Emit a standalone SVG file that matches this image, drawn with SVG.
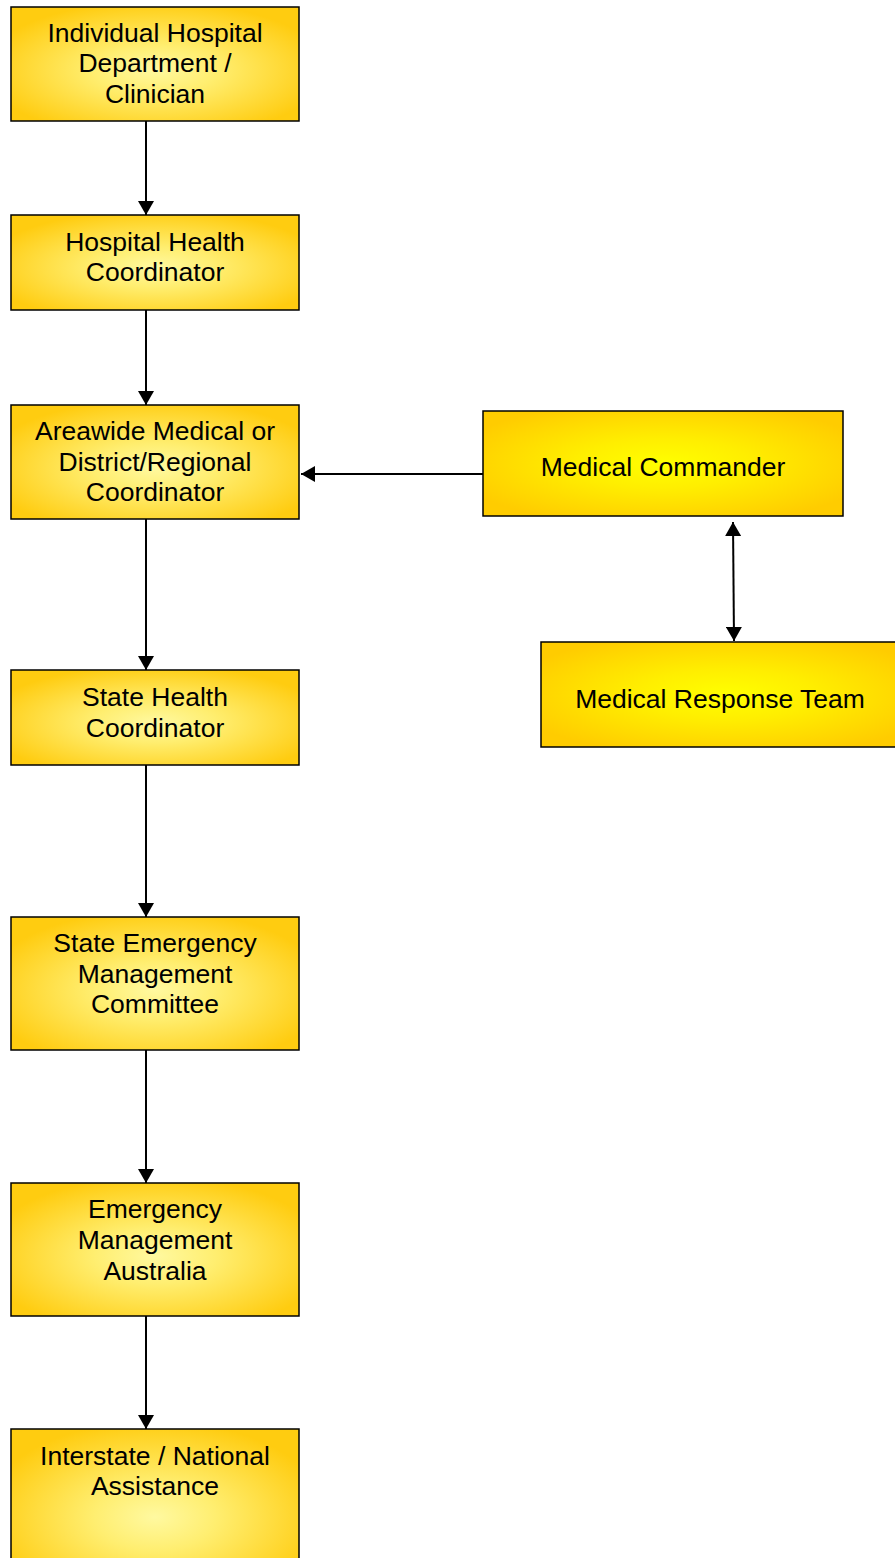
<svg xmlns="http://www.w3.org/2000/svg" width="895" height="1558" viewBox="0 0 895 1558">
  <defs>
    <radialGradient id="paleGold" cx="0.5" cy="0.55" r="0.6">
      <stop offset="0" stop-color="#FFF9A0"/>
      <stop offset="0.35" stop-color="#FFEE70"/>
      <stop offset="1" stop-color="#FFCC10"/>
    </radialGradient>
    <radialGradient id="brightGold" cx="0.5" cy="0.5" r="0.6">
      <stop offset="0" stop-color="#FFFF00"/>
      <stop offset="0.4" stop-color="#FFEE00"/>
      <stop offset="1" stop-color="#FFCC00"/>
    </radialGradient>
    <marker id="arrowWide" viewBox="0 0 14 16" refX="14" refY="8" markerWidth="14" markerHeight="16" markerUnits="userSpaceOnUse" orient="auto-start-reverse">
      <path d="M0,0 L14,8 L0,16 Z" fill="#000"/>
    </marker>
  </defs>
  <style>
    .pale { fill: url(#paleGold); stroke: #000; stroke-width: 1.5; }
    .bright { fill: url(#brightGold); stroke: #000; stroke-width: 1.5; }
    .label { font-family: "Liberation Sans", Arial, sans-serif; font-size: 26.5px; fill: #000; text-anchor: middle; }
    .link { stroke: #000; stroke-width: 2; fill: none; }
  </style>

  <g id="connectors">
    <line class="link" x1="146" y1="121" x2="146" y2="215" marker-end="url(#arrowWide)"/>
    <line class="link" x1="146" y1="310" x2="146" y2="405" marker-end="url(#arrowWide)"/>
    <line class="link" x1="146" y1="519" x2="146" y2="670" marker-end="url(#arrowWide)"/>
    <line class="link" x1="146" y1="765" x2="146" y2="917" marker-end="url(#arrowWide)"/>
    <line class="link" x1="146" y1="1050" x2="146" y2="1183" marker-end="url(#arrowWide)"/>
    <line class="link" x1="146" y1="1316" x2="146" y2="1429" marker-end="url(#arrowWide)"/>
    <line class="link" x1="483" y1="474" x2="301" y2="474" marker-end="url(#arrowWide)"/>
    <line class="link" x1="733" y1="522" x2="734" y2="641" marker-start="url(#arrowWide)" marker-end="url(#arrowWide)"/>
  </g>

  <g id="node-clinician">
    <rect class="pale" x="11" y="7" width="288" height="114"/>
    <text class="label" x="155" y="42">Individual Hospital</text>
    <text class="label" x="155" y="72">Department /</text>
    <text class="label" x="155" y="103">Clinician</text>
  </g>

  <g id="node-hospital-coordinator">
    <rect class="pale" x="11" y="215" width="288" height="95"/>
    <text class="label" x="155" y="251">Hospital Health</text>
    <text class="label" x="155" y="281">Coordinator</text>
  </g>

  <g id="node-areawide-coordinator">
    <rect class="pale" x="11" y="405" width="288" height="114"/>
    <text class="label" x="155" y="440">Areawide Medical or</text>
    <text class="label" x="155" y="471">District/Regional</text>
    <text class="label" x="155" y="501">Coordinator</text>
  </g>

  <g id="node-state-coordinator">
    <rect class="pale" x="11" y="670" width="288" height="95"/>
    <text class="label" x="155" y="706">State Health</text>
    <text class="label" x="155" y="737">Coordinator</text>
  </g>

  <g id="node-state-committee">
    <rect class="pale" x="11" y="917" width="288" height="133"/>
    <text class="label" x="155" y="952">State Emergency</text>
    <text class="label" x="155" y="983">Management</text>
    <text class="label" x="155" y="1013">Committee</text>
  </g>

  <g id="node-ema">
    <rect class="pale" x="11" y="1183" width="288" height="133"/>
    <text class="label" x="155" y="1218">Emergency</text>
    <text class="label" x="155" y="1249">Management</text>
    <text class="label" x="155" y="1280">Australia</text>
  </g>

  <g id="node-interstate">
    <rect class="pale" x="11" y="1429" width="288" height="160"/>
    <text class="label" x="155" y="1465">Interstate / National</text>
    <text class="label" x="155" y="1495">Assistance</text>
  </g>

  <g id="node-medical-commander">
    <rect class="bright" x="483" y="411" width="360" height="105"/>
    <text class="label" x="663" y="476">Medical Commander</text>
  </g>

  <g id="node-response-team">
    <rect class="bright" x="541" y="642" width="370" height="105"/>
    <text class="label" x="720" y="708">Medical Response Team</text>
  </g>
</svg>
